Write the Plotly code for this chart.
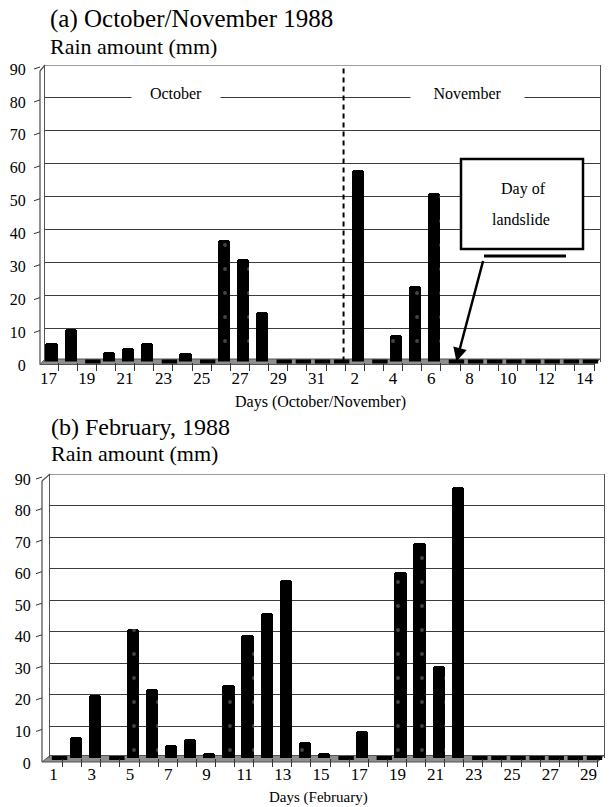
import plotly.graph_objects as go

W, H = 610, 807
FONT = "Liberation Serif, Times New Roman, serif"

# ---- (a) daily rain, 17 October - 14 November 1988 ----
oct_nov_days = ["17", "18", "19", "20", "21", "22", "23", "24", "25", "26",
                "27", "28", "29", "30", "31",
                "1", "2", "3", "4", "5", "6", "7", "8", "9", "10",
                "11", "12", "13", "14"]
oct_nov_rain = [5.5, 10, 0, 3, 4, 5.5, 0, 2.5, 0, 37,
                31, 15, 0, 0, 0,
                0, 58, 0, 8, 23, 51, 0, 0, 0, 0,
                0, 0, 0, 0]
landslide_day = "7"          # 7 November
month_split_pos = 15.1       # dashed separator between the months

# ---- (b) daily rain, February 1988 ----
feb_days = ["1", "2", "3", "4", "5", "6", "7", "8", "9", "10",
            "11", "12", "13", "14", "15", "16", "17", "18", "19", "20",
            "21", "22", "23", "24", "25", "26", "27", "28", "29"]
feb_rain = [0, 6.5, 20, 0, 41, 22, 4, 6, 1.5, 23,
            39, 46, 56.5, 5, 1.5, 0, 8.5, 0, 59, 68,
            29, 86, 0, 0, 0, 0, 0, 0, 0]

y_ticks = [0, 10, 20, 30, 40, 50, 60, 70, 80, 90]


def px(x):
    return x / W


def py(y):
    return 1 - y / H


fig = go.Figure()
shapes = []
annotations = []


def add_panel(n, days, rain, left, right, top, bottom, fdx, fdy, front_left):
    """One pseudo-3D column panel: back wall = axes, front edge = shapes."""
    xa, ya = ("x", "y") if n == 1 else (f"x{n}", f"y{n}")
    xkey, ykey = ("xaxis", "yaxis") if n == 1 else (f"xaxis{n}", f"yaxis{n}")
    count = len(days)
    step = (right - left) / count
    idx = list(range(count))

    fig.add_trace(go.Bar(
        x=idx, y=rain, xaxis=xa, yaxis=ya,
        width=0.64, offset=-0.32 - 3 / step,
        marker=dict(color="black", line=dict(width=0), cornerradius=3,
                    pattern=dict(shape=".", fgcolor="#8a8a8a", bgcolor="black",
                                 size=24, solidity=0.02)),
        showlegend=False, hoverinfo="x+y",
    ))
    zero_idx = [i for i, v in enumerate(rain) if v == 0]
    fig.add_trace(go.Scatter(
        x=zero_idx, y=[0] * len(zero_idx), xaxis=xa, yaxis=ya,
        mode="markers", cliponaxis=False,
        marker=dict(symbol="line-ew", size=11,
                    line=dict(color="black", width=4)),
        showlegend=False, hoverinfo="skip",
    ))

    fig.layout[xkey] = dict(
        domain=[px(left), px(right)], range=[-0.5, count - 0.5], anchor=ya,
        automargin=False,
        tickmode="array", tickvals=idx[::2], ticktext=days[::2],
        ticks="", ticklabelshift=int(round(fdx)), ticklabelstandoff=4,
        tickfont=dict(size=17),
        minor=dict(tickmode="array",
                   tickvals=[i - 0.5 + fdx / step for i in range(count + 1)],
                   ticks="outside", ticklen=8, tickwidth=1, tickcolor="#333"),
        showgrid=False, zeroline=False, showline=False, fixedrange=True,
    )
    fig.layout[ykey] = dict(
        domain=[py(bottom), py(top)], range=[0, 90], anchor=xa,
        automargin=False,
        tickmode="array", tickvals=y_ticks, ticks="",
        ticklabelshift=int(round(fdy)) + 1, ticklabelstandoff=15,
        tickfont=dict(size=16),
        showgrid=True, gridcolor="#3c3c3c", gridwidth=1.2,
        showline=True, linecolor="#555", linewidth=1.2, mirror=True,
        zeroline=False, fixedrange=True,
    )

    # top edge of the back wall
    shapes.append(dict(type="line", xref=f"{xa} domain", yref=ya,
                       x0=0, x1=1, y0=90, y1=90,
                       line=dict(color="#3c3c3c", width=1.2)))
    # floor
    fx0, fx1 = front_left, right + fdx
    fy = bottom + fdy
    by = bottom - 2.5
    shapes.append(dict(
        type="path", xref="paper", yref="paper", layer="between",
        path=(f"M {px(fx0)},{py(fy)} L {px(fx1)},{py(fy)} "
              f"L {px(right)},{py(by)} L {px(left)},{py(by)} Z"),
        fillcolor="#8e8e8e", line=dict(color="#555", width=1)))
    # front edge of the side wall
    front_top = top + fdy + 3
    shapes.append(dict(type="line", xref="paper", yref="paper",
                       x0=px(front_left), x1=px(front_left),
                       y0=py(fy), y1=py(front_top),
                       line=dict(color="#555", width=1.3)))
    shapes.append(dict(type="line", xref="paper", yref="paper",
                       x0=px(front_left), x1=px(left),
                       y0=py(front_top), y1=py(top),
                       line=dict(color="#555", width=1.3)))
    # tick marks on the front edge
    for v in y_ticks:
        shapes.append(dict(type="line", xref="paper", yref=ya,
                           ysizemode="pixel", yanchor=v,
                           x0=px(front_left - 6), x1=px(front_left),
                           y0=-fdy - 1, y1=-fdy + 1,
                           line=dict(color="#333", width=1)))


add_panel(1, oct_nov_days, oct_nov_rain, left=45, right=600, top=65,
          bottom=361.5, fdx=-6, fdy=3, front_left=40)
add_panel(2, feb_days, feb_rain, left=50, right=604, top=474,
          bottom=758, fdx=-6.5, fdy=4, front_left=42)

# month separator
shapes.append(dict(type="line", xref="x", yref="y",
                   x0=month_split_pos, x1=month_split_pos, y0=0, y1=90,
                   line=dict(color="black", width=2, dash="5px,4px")))

# landslide call-out box
shapes.append(dict(type="rect", xref="paper", yref="paper",
                   x0=px(461), x1=px(583), y0=py(249), y1=py(159),
                   fillcolor="white", line=dict(color="black", width=2.5)))
shapes.append(dict(type="line", xref="paper", yref="paper",
                   x0=px(484), x1=px(566), y0=py(256), y1=py(256),
                   line=dict(color="black", width=3)))

annotations += [
    dict(text="Day of", x=px(523), y=py(189), xref="paper", yref="paper",
         xanchor="center", yanchor="middle",
         showarrow=False, font=dict(size=16)),
    dict(text="landslide", x=px(521), y=py(219), xref="paper", yref="paper",
         xanchor="center", yanchor="middle",
         showarrow=False, font=dict(size=16)),
    dict(text="", x=oct_nov_days.index(landslide_day, 15), y=0,
         xref="x", yref="y", ax=27, ay=-102, showarrow=True,
         arrowhead=2, arrowsize=1.1, arrowwidth=2.5, arrowcolor="black"),
    # month labels on the 80 mm line
    dict(text="October", x=px(176), y=80, xref="paper", yref="y", yshift=4,
         xanchor="center", yanchor="middle",
         showarrow=False, font=dict(size=16), bgcolor="white", width=88,
         height=15, borderpad=0),
    dict(text="November", x=px(467), y=80, xref="paper", yref="y", yshift=4,
         xanchor="center", yanchor="middle",
         showarrow=False, font=dict(size=16), bgcolor="white", width=113,
         height=15, borderpad=0),
    # titles
    dict(text="(a) October/November 1988", x=px(48), y=py(19),
         xref="paper", yref="paper", xanchor="left", yanchor="middle",
         showarrow=False, font=dict(size=25)),
    dict(text="Rain amount (mm)", x=px(48), y=py(46),
         xref="paper", yref="paper", xanchor="left", yanchor="middle",
         showarrow=False, font=dict(size=22)),
    dict(text="(b) February, 1988", x=px(49), y=py(427),
         xref="paper", yref="paper", xanchor="left", yanchor="middle",
         showarrow=False, font=dict(size=24)),
    dict(text="Rain amount (mm)", x=px(49), y=py(454),
         xref="paper", yref="paper", xanchor="left", yanchor="middle",
         showarrow=False, font=dict(size=22)),
    dict(text="Days (October/November)", x=px(320), y=py(402),
         xref="paper", yref="paper", xanchor="center", yanchor="middle",
         showarrow=False, font=dict(size=16)),
    dict(text="Days (February)", x=px(318), y=py(797),
         xref="paper", yref="paper", xanchor="center", yanchor="middle",
         showarrow=False, font=dict(size=15)),
]

fig.update_layout(
    width=W, height=H,
    margin=dict(l=0, r=0, t=0, b=0),
    paper_bgcolor="white", plot_bgcolor="white",
    font=dict(family=FONT, color="black"),
    bargap=0, showlegend=False,
    shapes=shapes, annotations=annotations,
)

fig.write_html("out.html")
